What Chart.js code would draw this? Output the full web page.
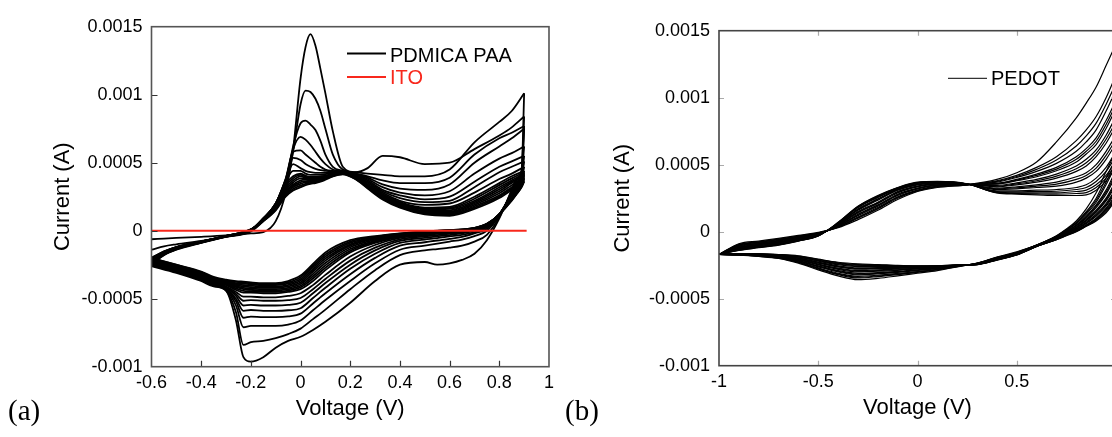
<!DOCTYPE html>
<html>
<head>
<meta charset="utf-8">
<script src="https://cdn.jsdelivr.net/npm/chart.js@4/dist/chart.umd.min.js"></script>
<style>
  html, body { margin: 0; padding: 0; background: #fff; overflow: hidden; width: 1112px; height: 437px; }
  #wrap { position: relative; width: 1112px; height: 437px; overflow: hidden; }
  canvas { position: absolute; top: 0; }
  #cA { left: 0; }
  #cB { left: 560px; }
  .tag { position: absolute; font-family: "Liberation Serif", "Times New Roman", serif; font-size: 29px; line-height: 1; color: #000; }
</style>
</head>
<body>
<div id="wrap">
  <canvas id="cA" width="560" height="437"></canvas>
  <canvas id="cB" width="570" height="437"></canvas>
  <div class="tag" style="left:8px; top:396px;">(a)</div>
  <div class="tag" style="left:565px; top:396px;">(b)</div>
</div>
<script>
// ---------- Panel (a): PDMICA PAA, successive CV scans (current in mA) ----------
const aXTicks = [-0.6, -0.4, -0.2, 0, 0.2, 0.4, 0.6, 0.8, 1];
const aYTicks = [-0.001, -0.0005, 0, 0.0005, 0.001, 0.0015];

// anodic sweep voltages (V)
const aFwdV = [-0.6, -0.55, -0.5, -0.4, -0.3, -0.2, -0.15, -0.1, -0.06, -0.03, 0, 0.02, 0.04, 0.06, 0.08, 0.1, 0.13, 0.17, 0.22, 0.27, 0.33, 0.4, 0.5, 0.6, 0.7, 0.8, 0.85, 0.9];
// anodic sweep currents (mA), one row per scan
const aFwdI = [
  [-0.063, -0.058, -0.053, -0.045, -0.035, -0.02, -0.01, 0.07, 0.28, 0.6, 1.12, 1.35, 1.445, 1.36, 1.19, 1.01, 0.73, 0.47, 0.43, 0.46, 0.55, 0.54, 0.49, 0.5, 0.6, 0.7, 0.76, 0.84],
  [-0.14, -0.115, -0.1, -0.075, -0.045, -0.005, 0.07, 0.17, 0.33, 0.58, 0.93, 1.03, 1.02, 0.97, 0.88, 0.75, 0.56, 0.45, 0.43, 0.42, 0.41, 0.4, 0.4, 0.45, 0.65, 0.8, 0.88, 1.01],
  [-0.25, -0.18, -0.14, -0.09, -0.045, -0.002, 0.075, 0.18, 0.35, 0.62, 0.79, 0.81, 0.78, 0.74, 0.66, 0.56, 0.47, 0.44, 0.42, 0.4, 0.37, 0.35, 0.35, 0.39, 0.56, 0.68, 0.72, 0.77],
  [-0.245, -0.178, -0.138, -0.088, -0.044, 0, 0.08, 0.19, 0.37, 0.6, 0.69, 0.67, 0.63, 0.58, 0.53, 0.49, 0.45, 0.435, 0.42, 0.39, 0.34, 0.31, 0.3, 0.34, 0.5, 0.62, 0.68, 0.75],
  [-0.24, -0.175, -0.135, -0.087, -0.043, 0.002, 0.085, 0.2, 0.38, 0.58, 0.59, 0.56, 0.53, 0.5, 0.47, 0.45, 0.44, 0.435, 0.415, 0.38, 0.32, 0.28, 0.26, 0.29, 0.42, 0.53, 0.57, 0.62],
  [-0.235, -0.172, -0.133, -0.086, -0.042, 0.003, 0.09, 0.2, 0.38, 0.535, 0.52, 0.49, 0.47, 0.455, 0.445, 0.44, 0.435, 0.43, 0.41, 0.37, 0.3, 0.26, 0.23, 0.25, 0.36, 0.47, 0.51, 0.55],
  [-0.23, -0.17, -0.131, -0.085, -0.041, 0.004, 0.09, 0.2, 0.37, 0.49, 0.46, 0.44, 0.43, 0.425, 0.425, 0.425, 0.43, 0.43, 0.405, 0.36, 0.29, 0.24, 0.21, 0.22, 0.32, 0.43, 0.47, 0.51],
  [-0.225, -0.167, -0.129, -0.084, -0.04, 0.005, 0.09, 0.2, 0.36, 0.44, 0.44, 0.42, 0.41, 0.41, 0.41, 0.415, 0.425, 0.43, 0.4, 0.35, 0.28, 0.22, 0.19, 0.2, 0.28, 0.38, 0.42, 0.47],
  [-0.22, -0.164, -0.127, -0.083, -0.04, 0.006, 0.09, 0.19, 0.34, 0.4, 0.42, 0.405, 0.395, 0.395, 0.4, 0.405, 0.42, 0.43, 0.4, 0.34, 0.27, 0.21, 0.17, 0.175, 0.25, 0.35, 0.4, 0.44],
  [-0.218, -0.162, -0.126, -0.082, -0.04, 0.006, 0.087, 0.185, 0.325, 0.385, 0.41, 0.397, 0.39, 0.39, 0.395, 0.402, 0.417, 0.428, 0.398, 0.338, 0.265, 0.205, 0.162, 0.167, 0.235, 0.335, 0.385, 0.43],
  [-0.215, -0.161, -0.125, -0.082, -0.039, 0.007, 0.085, 0.18, 0.31, 0.37, 0.4, 0.39, 0.385, 0.385, 0.39, 0.4, 0.415, 0.425, 0.395, 0.335, 0.26, 0.2, 0.155, 0.16, 0.22, 0.32, 0.37, 0.42],
  [-0.212, -0.16, -0.124, -0.081, -0.039, 0.007, 0.082, 0.175, 0.3, 0.355, 0.385, 0.382, 0.378, 0.378, 0.385, 0.395, 0.412, 0.425, 0.392, 0.332, 0.255, 0.195, 0.147, 0.15, 0.21, 0.305, 0.36, 0.41],
  [-0.21, -0.158, -0.123, -0.081, -0.039, 0.008, 0.08, 0.17, 0.29, 0.34, 0.37, 0.375, 0.37, 0.37, 0.38, 0.39, 0.41, 0.425, 0.39, 0.33, 0.25, 0.19, 0.14, 0.14, 0.2, 0.29, 0.35, 0.4],
  [-0.207, -0.156, -0.122, -0.08, -0.038, 0.008, 0.078, 0.165, 0.28, 0.33, 0.357, 0.365, 0.365, 0.365, 0.375, 0.387, 0.407, 0.422, 0.388, 0.325, 0.245, 0.185, 0.135, 0.132, 0.19, 0.275, 0.335, 0.39],
  [-0.205, -0.155, -0.121, -0.08, -0.038, 0.009, 0.075, 0.16, 0.27, 0.32, 0.345, 0.355, 0.36, 0.36, 0.37, 0.385, 0.405, 0.42, 0.385, 0.32, 0.24, 0.18, 0.13, 0.125, 0.18, 0.26, 0.32, 0.38],
  [-0.202, -0.153, -0.12, -0.08, -0.038, 0.01, 0.072, 0.155, 0.26, 0.307, 0.332, 0.345, 0.352, 0.355, 0.365, 0.38, 0.402, 0.417, 0.382, 0.315, 0.235, 0.175, 0.125, 0.117, 0.17, 0.25, 0.31, 0.37],
  [-0.2, -0.152, -0.12, -0.08, -0.038, 0.01, 0.07, 0.15, 0.25, 0.295, 0.32, 0.335, 0.345, 0.35, 0.36, 0.375, 0.4, 0.415, 0.38, 0.31, 0.23, 0.17, 0.12, 0.11, 0.16, 0.24, 0.3, 0.36]
];
// cathodic sweep voltages (V)
const aRevV = [0.9, 0.89, 0.87, 0.85, 0.8, 0.75, 0.7, 0.65, 0.6, 0.55, 0.5, 0.4, 0.3, 0.2, 0.1, 0.05, 0, -0.05, -0.1, -0.15, -0.2, -0.23, -0.26, -0.3, -0.35, -0.4, -0.5, -0.6];
// cathodic sweep currents (mA), one row per scan
const aRevI = [
  [0.84, 0.45, 0.38, 0.3, 0.09, -0.07, -0.17, -0.215, -0.24, -0.25, -0.23, -0.25, -0.37, -0.53, -0.67, -0.73, -0.78, -0.81, -0.86, -0.93, -0.963, -0.93, -0.66, -0.44, -0.41, -0.37, -0.31, -0.26],
  [1.01, 0.44, 0.36, 0.29, 0.1, -0.03, -0.08, -0.11, -0.125, -0.135, -0.145, -0.18, -0.29, -0.43, -0.58, -0.65, -0.72, -0.76, -0.79, -0.81, -0.82, -0.84, -0.6, -0.44, -0.405, -0.365, -0.305, -0.255],
  [0.77, 0.42, 0.35, 0.28, 0.11, 0, -0.04, -0.065, -0.08, -0.095, -0.11, -0.14, -0.24, -0.37, -0.51, -0.585, -0.66, -0.69, -0.7, -0.7, -0.7, -0.71, -0.55, -0.435, -0.4, -0.36, -0.3, -0.25],
  [0.75, 0.41, 0.34, 0.275, 0.115, 0.015, -0.02, -0.045, -0.06, -0.072, -0.085, -0.11, -0.2, -0.32, -0.46, -0.535, -0.61, -0.63, -0.635, -0.635, -0.632, -0.64, -0.52, -0.43, -0.395, -0.355, -0.295, -0.245],
  [0.62, 0.4, 0.33, 0.27, 0.12, 0.025, -0.01, -0.03, -0.042, -0.055, -0.065, -0.09, -0.17, -0.28, -0.42, -0.495, -0.57, -0.585, -0.59, -0.59, -0.583, -0.59, -0.5, -0.425, -0.39, -0.35, -0.29, -0.24],
  [0.55, 0.39, 0.32, 0.265, 0.12, 0.03, 0, -0.02, -0.032, -0.042, -0.052, -0.075, -0.145, -0.25, -0.385, -0.46, -0.53, -0.545, -0.55, -0.55, -0.546, -0.55, -0.48, -0.42, -0.385, -0.345, -0.285, -0.235],
  [0.51, 0.38, 0.31, 0.26, 0.12, 0.035, 0.005, -0.012, -0.022, -0.032, -0.042, -0.063, -0.125, -0.22, -0.355, -0.43, -0.495, -0.51, -0.515, -0.515, -0.51, -0.515, -0.465, -0.415, -0.38, -0.34, -0.28, -0.23],
  [0.47, 0.37, 0.3, 0.255, 0.12, 0.04, 0.01, -0.008, -0.016, -0.024, -0.034, -0.053, -0.105, -0.19, -0.325, -0.4, -0.46, -0.48, -0.49, -0.49, -0.485, -0.485, -0.45, -0.41, -0.375, -0.335, -0.275, -0.225],
  [0.44, 0.36, 0.29, 0.25, 0.12, 0.042, 0.012, -0.005, -0.01, -0.018, -0.027, -0.045, -0.09, -0.16, -0.29, -0.37, -0.43, -0.45, -0.46, -0.46, -0.455, -0.455, -0.435, -0.4, -0.37, -0.33, -0.27, -0.22],
  [0.43, 0.355, 0.288, 0.245, 0.12, 0.043, 0.013, -0.002, -0.008, -0.015, -0.023, -0.041, -0.082, -0.148, -0.272, -0.352, -0.417, -0.44, -0.45, -0.45, -0.445, -0.442, -0.425, -0.395, -0.365, -0.325, -0.268, -0.218],
  [0.42, 0.35, 0.285, 0.24, 0.12, 0.045, 0.015, 0, -0.005, -0.012, -0.02, -0.037, -0.075, -0.135, -0.255, -0.335, -0.405, -0.43, -0.44, -0.44, -0.435, -0.43, -0.415, -0.39, -0.36, -0.32, -0.265, -0.215],
  [0.41, 0.345, 0.282, 0.238, 0.12, 0.046, 0.016, 0.003, -0.003, -0.009, -0.016, -0.034, -0.068, -0.122, -0.238, -0.318, -0.392, -0.42, -0.43, -0.43, -0.425, -0.42, -0.408, -0.385, -0.358, -0.318, -0.263, -0.213],
  [0.4, 0.34, 0.28, 0.235, 0.12, 0.047, 0.017, 0.005, 0, -0.006, -0.013, -0.03, -0.06, -0.11, -0.22, -0.3, -0.38, -0.41, -0.42, -0.42, -0.415, -0.41, -0.4, -0.38, -0.355, -0.315, -0.26, -0.21],
  [0.39, 0.335, 0.278, 0.232, 0.12, 0.048, 0.018, 0.006, 0.002, -0.004, -0.01, -0.028, -0.055, -0.1, -0.205, -0.285, -0.367, -0.4, -0.41, -0.41, -0.405, -0.4, -0.392, -0.375, -0.352, -0.312, -0.258, -0.208],
  [0.38, 0.33, 0.275, 0.23, 0.12, 0.05, 0.02, 0.008, 0.003, -0.002, -0.008, -0.025, -0.05, -0.09, -0.19, -0.27, -0.355, -0.39, -0.4, -0.4, -0.395, -0.39, -0.385, -0.37, -0.35, -0.31, -0.255, -0.205],
  [0.37, 0.325, 0.272, 0.225, 0.12, 0.05, 0.02, 0.009, 0.004, -0.001, -0.006, -0.022, -0.045, -0.08, -0.175, -0.258, -0.342, -0.38, -0.392, -0.392, -0.387, -0.382, -0.377, -0.365, -0.345, -0.305, -0.252, -0.202],
  [0.36, 0.32, 0.27, 0.22, 0.12, 0.05, 0.02, 0.01, 0.005, 0, -0.005, -0.02, -0.04, -0.07, -0.16, -0.245, -0.33, -0.37, -0.385, -0.385, -0.38, -0.375, -0.37, -0.36, -0.34, -0.3, -0.25, -0.2]
];
// bare ITO reference scan
const itoV = [-0.6, -0.3, 0, 0.3, 0.6, 0.91];
const itoI = [0, 0, 0, 0, 0, 0];

// ---------- Panel (b): PEDOT, successive CV scans (current in mA) ----------
const bXTicks = [-1, -0.5, 0, 0.5, 1];
const bYTicks = [-0.001, -0.0005, 0, 0.0005, 0.001, 0.0015];

const bFwdV = [-1, -0.9, -0.8, -0.7, -0.6, -0.5, -0.4, -0.3, -0.2, -0.1, 0, 0.1, 0.25, 0.4, 0.5, 0.6, 0.7, 0.8, 0.85, 0.9, 0.95, 1];
const bFwdI = [
  [-0.17, -0.09, -0.07, -0.05, -0.028, -0.005, 0.03, 0.09, 0.16, 0.24, 0.3, 0.33, 0.35, 0.39, 0.44, 0.52, 0.67, 0.85, 0.96, 1.08, 1.24, 1.4],
  [-0.17, -0.095, -0.075, -0.055, -0.032, -0.008, 0.033, 0.1, 0.17, 0.25, 0.305, 0.335, 0.35, 0.38, 0.42, 0.48, 0.56, 0.68, 0.76, 0.86, 1, 1.17],
  [-0.17, -0.098, -0.078, -0.058, -0.034, -0.01, 0.035, 0.105, 0.175, 0.255, 0.308, 0.338, 0.35, 0.375, 0.412, 0.465, 0.535, 0.64, 0.715, 0.81, 0.95, 1.11],
  [-0.17, -0.1, -0.08, -0.06, -0.036, -0.011, 0.036, 0.11, 0.18, 0.26, 0.31, 0.34, 0.351, 0.37, 0.405, 0.45, 0.51, 0.6, 0.67, 0.76, 0.9, 1.06],
  [-0.17, -0.105, -0.085, -0.064, -0.04, -0.014, 0.04, 0.12, 0.19, 0.27, 0.32, 0.345, 0.352, 0.36, 0.39, 0.43, 0.48, 0.56, 0.62, 0.7, 0.83, 0.98],
  [-0.17, -0.108, -0.088, -0.066, -0.042, -0.015, 0.042, 0.125, 0.195, 0.275, 0.322, 0.347, 0.352, 0.358, 0.385, 0.42, 0.467, 0.54, 0.6, 0.675, 0.8, 0.95],
  [-0.17, -0.11, -0.09, -0.069, -0.044, -0.017, 0.043, 0.13, 0.2, 0.28, 0.325, 0.35, 0.353, 0.355, 0.38, 0.41, 0.455, 0.52, 0.58, 0.65, 0.77, 0.92],
  [-0.17, -0.114, -0.094, -0.074, -0.048, -0.02, 0.046, 0.14, 0.21, 0.29, 0.335, 0.355, 0.354, 0.345, 0.365, 0.39, 0.43, 0.49, 0.54, 0.61, 0.72, 0.86],
  [-0.17, -0.116, -0.096, -0.076, -0.05, -0.021, 0.048, 0.145, 0.215, 0.295, 0.338, 0.357, 0.354, 0.34, 0.357, 0.38, 0.415, 0.47, 0.515, 0.585, 0.69, 0.82],
  [-0.17, -0.118, -0.098, -0.078, -0.052, -0.022, 0.05, 0.15, 0.22, 0.3, 0.34, 0.36, 0.354, 0.335, 0.35, 0.37, 0.4, 0.45, 0.49, 0.56, 0.66, 0.79],
  [-0.17, -0.122, -0.102, -0.082, -0.056, -0.024, 0.053, 0.16, 0.235, 0.31, 0.35, 0.365, 0.355, 0.325, 0.335, 0.35, 0.37, 0.41, 0.44, 0.5, 0.6, 0.72],
  [-0.17, -0.124, -0.104, -0.084, -0.058, -0.025, 0.055, 0.165, 0.24, 0.312, 0.352, 0.366, 0.355, 0.32, 0.327, 0.34, 0.355, 0.39, 0.42, 0.475, 0.57, 0.69],
  [-0.17, -0.126, -0.106, -0.087, -0.06, -0.026, 0.057, 0.17, 0.245, 0.315, 0.355, 0.368, 0.355, 0.315, 0.32, 0.33, 0.34, 0.37, 0.4, 0.45, 0.54, 0.66],
  [-0.17, -0.13, -0.11, -0.091, -0.064, -0.028, 0.061, 0.18, 0.255, 0.32, 0.36, 0.371, 0.356, 0.305, 0.305, 0.31, 0.315, 0.33, 0.35, 0.4, 0.48, 0.6],
  [-0.17, -0.132, -0.112, -0.093, -0.065, -0.029, 0.063, 0.182, 0.258, 0.322, 0.362, 0.372, 0.356, 0.3, 0.297, 0.3, 0.302, 0.315, 0.33, 0.375, 0.45, 0.565],
  [-0.17, -0.135, -0.115, -0.096, -0.067, -0.03, 0.065, 0.185, 0.262, 0.325, 0.365, 0.373, 0.356, 0.295, 0.29, 0.29, 0.29, 0.3, 0.31, 0.35, 0.42, 0.53],
  [-0.17, -0.138, -0.118, -0.098, -0.068, -0.031, 0.067, 0.188, 0.266, 0.328, 0.367, 0.374, 0.356, 0.292, 0.285, 0.282, 0.28, 0.285, 0.292, 0.33, 0.4, 0.505],
  [-0.17, -0.14, -0.12, -0.1, -0.07, -0.032, 0.07, 0.19, 0.27, 0.33, 0.37, 0.375, 0.357, 0.29, 0.28, 0.275, 0.27, 0.27, 0.275, 0.31, 0.38, 0.48]
];
const bRevV = [1, 0.95, 0.9, 0.85, 0.8, 0.75, 0.7, 0.6, 0.5, 0.4, 0.3, 0.2, 0.1, 0, -0.1, -0.2, -0.3, -0.4, -0.5, -0.6, -0.7, -0.8, -0.9, -1];
const bRevI = [
  [0.6, 0.45, 0.29, 0.17, 0.08, 0.02, -0.03, -0.1, -0.15, -0.19, -0.235, -0.262, -0.29, -0.31, -0.33, -0.348, -0.358, -0.33, -0.285, -0.235, -0.2, -0.185, -0.175, -0.17],
  [0.55, 0.4, 0.25, 0.15, 0.07, 0.015, -0.033, -0.1, -0.153, -0.192, -0.236, -0.26, -0.285, -0.303, -0.32, -0.335, -0.345, -0.32, -0.278, -0.23, -0.197, -0.183, -0.174, -0.17],
  [0.52, 0.37, 0.235, 0.14, 0.065, 0.012, -0.035, -0.1, -0.155, -0.193, -0.236, -0.259, -0.282, -0.3, -0.316, -0.33, -0.339, -0.315, -0.274, -0.228, -0.195, -0.182, -0.173, -0.17],
  [0.5, 0.35, 0.22, 0.13, 0.06, 0.01, -0.036, -0.101, -0.156, -0.194, -0.237, -0.258, -0.28, -0.297, -0.312, -0.325, -0.333, -0.31, -0.27, -0.225, -0.194, -0.181, -0.173, -0.17],
  [0.46, 0.31, 0.2, 0.115, 0.05, 0.005, -0.039, -0.102, -0.158, -0.196, -0.238, -0.256, -0.276, -0.29, -0.304, -0.315, -0.322, -0.3, -0.262, -0.22, -0.191, -0.179, -0.172, -0.17],
  [0.44, 0.295, 0.19, 0.108, 0.046, 0.002, -0.04, -0.102, -0.159, -0.197, -0.238, -0.255, -0.274, -0.287, -0.3, -0.31, -0.317, -0.295, -0.258, -0.218, -0.19, -0.178, -0.171, -0.17],
  [0.42, 0.28, 0.18, 0.1, 0.042, 0, -0.042, -0.103, -0.16, -0.198, -0.239, -0.254, -0.272, -0.284, -0.296, -0.305, -0.311, -0.29, -0.255, -0.215, -0.188, -0.177, -0.171, -0.17],
  [0.38, 0.25, 0.16, 0.09, 0.035, -0.004, -0.045, -0.104, -0.162, -0.2, -0.24, -0.253, -0.268, -0.278, -0.288, -0.295, -0.3, -0.281, -0.248, -0.21, -0.186, -0.175, -0.17, -0.17],
  [0.365, 0.24, 0.152, 0.085, 0.032, -0.006, -0.046, -0.105, -0.163, -0.201, -0.24, -0.252, -0.266, -0.275, -0.284, -0.29, -0.295, -0.276, -0.244, -0.208, -0.184, -0.174, -0.17, -0.17],
  [0.35, 0.23, 0.145, 0.08, 0.028, -0.008, -0.048, -0.106, -0.164, -0.202, -0.241, -0.252, -0.265, -0.273, -0.28, -0.285, -0.29, -0.272, -0.241, -0.205, -0.183, -0.173, -0.169, -0.17],
  [0.32, 0.21, 0.13, 0.07, 0.022, -0.012, -0.05, -0.107, -0.166, -0.204, -0.242, -0.251, -0.262, -0.268, -0.273, -0.276, -0.28, -0.263, -0.234, -0.2, -0.18, -0.171, -0.168, -0.17],
  [0.31, 0.2, 0.122, 0.065, 0.019, -0.014, -0.051, -0.107, -0.167, -0.205, -0.242, -0.25, -0.26, -0.266, -0.27, -0.272, -0.275, -0.259, -0.23, -0.197, -0.179, -0.17, -0.167, -0.17],
  [0.3, 0.19, 0.115, 0.06, 0.016, -0.016, -0.053, -0.108, -0.168, -0.206, -0.243, -0.25, -0.259, -0.264, -0.267, -0.268, -0.27, -0.255, -0.227, -0.195, -0.178, -0.17, -0.167, -0.17],
  [0.28, 0.175, 0.1, 0.05, 0.01, -0.02, -0.055, -0.109, -0.17, -0.208, -0.244, -0.25, -0.257, -0.26, -0.261, -0.26, -0.26, -0.246, -0.22, -0.19, -0.175, -0.168, -0.166, -0.17],
  [0.27, 0.168, 0.095, 0.048, 0.008, -0.022, -0.056, -0.11, -0.171, -0.209, -0.244, -0.25, -0.256, -0.258, -0.258, -0.256, -0.255, -0.241, -0.216, -0.188, -0.173, -0.167, -0.165, -0.17],
  [0.26, 0.16, 0.09, 0.045, 0.005, -0.025, -0.058, -0.11, -0.172, -0.21, -0.245, -0.25, -0.255, -0.257, -0.256, -0.252, -0.25, -0.237, -0.212, -0.185, -0.172, -0.167, -0.165, -0.17],
  [0.25, 0.15, 0.085, 0.042, 0.002, -0.028, -0.059, -0.11, -0.173, -0.211, -0.245, -0.25, -0.254, -0.256, -0.254, -0.248, -0.245, -0.232, -0.208, -0.182, -0.171, -0.166, -0.165, -0.17],
  [0.24, 0.14, 0.08, 0.04, 0, -0.03, -0.06, -0.11, -0.174, -0.212, -0.246, -0.25, -0.254, -0.255, -0.252, -0.245, -0.24, -0.228, -0.205, -0.18, -0.17, -0.165, -0.165, -0.17]
];

// ---------- shared helpers ----------
const FONT = '"Liberation Sans", Arial, Helvetica, sans-serif';
const fmt = v => String(Number(Number(v).toFixed(4)));
const pts = (xs, ys) => xs.map((x, i) => ({ x, y: ys[i] / 1000 }));

function scanSets(fwdV, fwdI, revV, revI, color, width) {
  const out = [];
  fwdI.forEach((row, k) => {
    out.push({ data: pts(fwdV, row), borderColor: color, borderWidth: width, order: 2 });
    out.push({ data: pts(revV, revI[k]), borderColor: color, borderWidth: width, order: 2 });
  });
  return out;
}

// box frame with inward tick marks, plus an inline legend
const frameAndLegend = {
  id: 'frameAndLegend',
  afterDatasetsDraw(chart, args, o) {
    const { ctx, chartArea: a } = chart;
    const xs = chart.scales.x, ys = chart.scales.y;
    ctx.save();
    ctx.strokeStyle = o.tickColor;
    ctx.lineWidth = o.tickWidth;
    ctx.beginPath();
    xs.ticks.forEach(t => {
      const p = Math.round(xs.getPixelForValue(t.value)) + 0.5;
      if (p <= a.left + 2 || p >= a.right - 2) return;
      ctx.moveTo(p, a.bottom); ctx.lineTo(p, a.bottom - o.tickLen);
      if (o.allSides) { ctx.moveTo(p, a.top); ctx.lineTo(p, a.top + o.tickLen); }
    });
    ys.ticks.forEach(t => {
      const p = Math.round(ys.getPixelForValue(t.value)) + 0.5;
      if (p <= a.top + 2 || p >= a.bottom - 2) return;
      ctx.moveTo(a.left, p); ctx.lineTo(a.left + o.tickLen, p);
      if (o.allSides) { ctx.moveTo(a.right, p); ctx.lineTo(a.right - o.tickLen, p); }
    });
    ctx.stroke();
    ctx.strokeStyle = o.frameColor;
    ctx.lineWidth = o.frameWidth;
    ctx.strokeRect(a.left, a.top, a.right - a.left, a.bottom - a.top);

    ctx.font = o.legendSize + 'px ' + FONT;
    ctx.textBaseline = 'middle';
    ctx.textAlign = 'left';
    o.legend.forEach(it => {
      const ds = chart.data.datasets[it.dataset];
      ctx.strokeStyle = ds.borderColor;
      ctx.lineWidth = it.lw;
      ctx.beginPath();
      ctx.moveTo(it.x0, it.y); ctx.lineTo(it.x1, it.y);
      ctx.stroke();
      ctx.fillStyle = it.textColor;
      ctx.fillText(it.text, it.x1 + 4, it.ty);
    });
    ctx.restore();
  }
};

function axes(xmin, xmax, xticks, yticks, yWidth) {
  return {
    x: {
      type: 'linear', min: xmin, max: xmax,
      afterBuildTicks: s => { s.ticks = xticks.map(value => ({ value })); },
      afterFit: s => { s.height = 59; },
      grid: { display: false, drawTicks: false },
      border: { display: false },
      ticks: { padding: 6, color: '#000', autoSkip: false, maxRotation: 0, font: { family: FONT, size: 18 }, callback: fmt },
      title: { display: true, text: 'Voltage (V)', color: '#000', font: { family: FONT, size: 22 }, padding: { top: 0, bottom: 4 } }
    },
    y: {
      type: 'linear', min: -0.001, max: 0.0015,
      afterBuildTicks: s => { s.ticks = yticks.map(value => ({ value })); },
      afterFit: s => { s.width = yWidth; },
      grid: { display: false, drawTicks: false },
      border: { display: false },
      ticks: { padding: 9, color: '#000', autoSkip: false, font: { family: FONT, size: 18 }, callback: fmt },
      title: { display: true, text: 'Current (A)', color: '#000', font: { family: FONT, size: 22 }, padding: { top: 3, bottom: 0 } }
    }
  };
}

const common = {
  responsive: false,
  animation: false,
  devicePixelRatio: 1,
  parsing: false,
  elements: { point: { radius: 0 }, line: { cubicInterpolationMode: 'monotone', fill: false } },
  plugins: { legend: { display: false }, tooltip: { enabled: false } }
};

// ---------- chart (a) ----------
const setsA = [
  { label: 'ITO', data: pts(itoV, itoI), borderColor: '#f8281c', borderWidth: 2, order: 1 },
  ...scanSets(aFwdV, aFwdI, aRevV, aRevI, '#000000', 1.8)
];
new Chart(document.getElementById('cA'), {
  type: 'scatter',
  data: { datasets: setsA.map(d => Object.assign({ showLine: true, pointRadius: 0 }, d)) },
  options: Object.assign({}, common, {
    layout: { padding: { left: 47, right: 9, top: 26.7, bottom: 11.3 } },
    scales: axes(-0.6, 1, aXTicks, aYTicks, 104.5),
    plugins: Object.assign({}, common.plugins, {
      frameAndLegend: {
        tickColor: '#333', tickWidth: 1.2, tickLen: 6, allSides: false,
        frameColor: '#555', frameWidth: 1.6, legendSize: 20,
        legend: [
          { dataset: 1, lw: 1.8, text: 'PDMICA PAA', textColor: '#000', x0: 347, x1: 386, y: 53.5, ty: 56 },
          { dataset: 0, lw: 2, text: 'ITO', textColor: '#f8281c', x0: 347, x1: 386, y: 77, ty: 78.5 }
        ]
      }
    })
  }),
  plugins: [frameAndLegend]
});

// ---------- chart (b) ----------
const setsB = scanSets(bFwdV, bFwdI, bRevV, bRevI, '#000000', 1.2);
new Chart(document.getElementById('cB'), {
  type: 'scatter',
  data: { datasets: setsB.map(d => Object.assign({ showLine: true, pointRadius: 0 }, d)) },
  options: Object.assign({}, common, {
    layout: { padding: { left: 47, right: 14, top: 30.7, bottom: 12.3 } },
    scales: axes(-1, 1, bXTicks, bYTicks, 112),
    plugins: Object.assign({}, common.plugins, {
      frameAndLegend: {
        tickColor: '#aaa', tickWidth: 1.2, tickLen: 5, allSides: true,
        frameColor: '#444', frameWidth: 1.6, legendSize: 20,
        legend: [
          { dataset: 0, lw: 1, text: 'PEDOT', textColor: '#000', x0: 388, x1: 427, y: 78.3, ty: 79.5 }
        ]
      }
    })
  }),
  plugins: [frameAndLegend]
});
</script>
</body>
</html>
